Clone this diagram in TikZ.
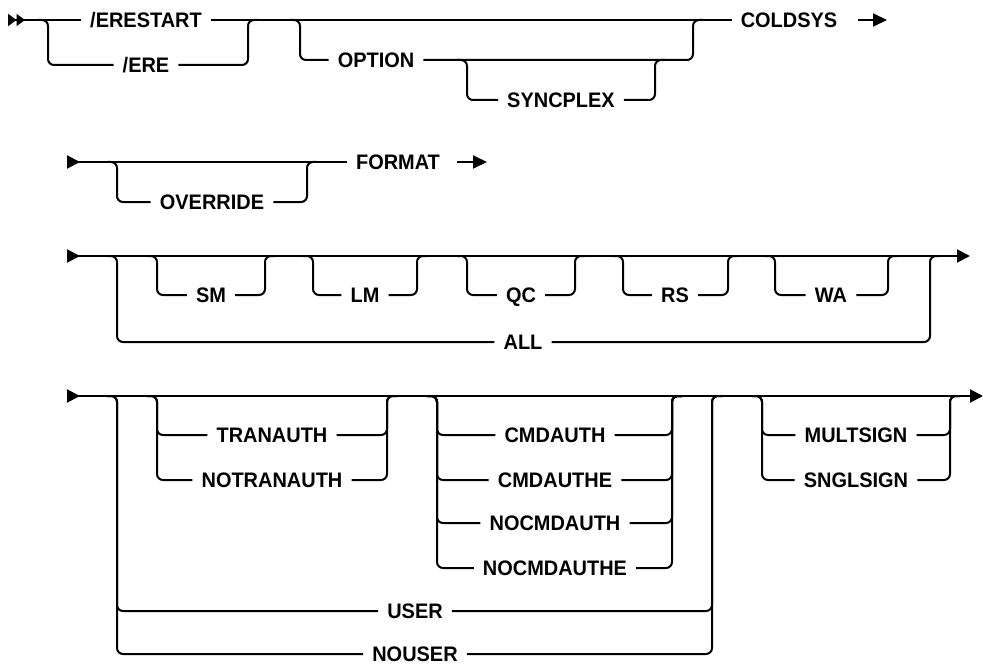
\documentclass[tikz,border=0pt]{standalone}
\usepackage{fontspec}
\setmainfont{Liberation Sans}
\newfontfamily\kwfont[FakeStretch=0.95]{Liberation Sans}
\usetikzlibrary{arrows.meta}

\begin{document}
\begin{tikzpicture}[
 x=1pt, y=-1pt,
 kw/.style={rectangle, draw=none, inner xsep=9pt, inner ysep=0pt, text height=15pt, text depth=0pt, font=\kwfont\fontsize{21}{21}\selectfont\bfseries},
 rail/.style={line width=2pt, rounded corners=6pt},
 dblarr/.style={{Triangle[reversed, length=8.5pt, width=12pt] Triangle[reversed, length=8.5pt, width=12pt]}-},
 startarr/.style={{Triangle[reversed, length=13pt, width=13pt]}-},
 endarr/.style={-{Triangle[length=14pt, width=13pt]}},
 thru/.style={{Triangle[reversed, length=13pt, width=13pt]}-{Triangle[length=13pt, width=13pt]}},
]
\useasboundingbox (0,0) rectangle (983,666);

% Row 1
\node[kw] (erestart) at (146,20) {/ERESTART};
\node[kw] (ere) at (146,65) {/ERE};
\node[kw] (option) at (376,60) {OPTION};
\node[kw] (syncplex) at (561,100) {SYNCPLEX};
\node[kw] (coldsys) at (789,20) {COLDSYS};
\coordinate (r1a) at (8,20);
\coordinate (r1b) at (887,20);

\draw[rail, dblarr] (r1a) -- (erestart.west);
\draw[rail] (erestart.east) -- (coldsys.west);
\draw[rail, endarr] ([xshift=12pt]coldsys.east) -- (r1b);
\draw[rail] (ere.west) -| (48,20) -- (38,20);
\draw[rail] (ere.east) -| (248,20) -- (258,20);
\draw[rail] (option.west) -| (300,20) -- (290,20);
\draw[rail] (option.east) -| (693,20) -- (703,20);
\draw[rail] (syncplex.west) -| (467,60) -- (457,60);
\draw[rail] (syncplex.east) -| (655,60) -- (665,60);

% Row 2
\node[kw] (override) at (212,202) {OVERRIDE};
\node[kw] (format) at (398,162) {FORMAT};
\coordinate (r2a) at (67,162);
\coordinate (r2b) at (487,162);

\draw[rail, startarr] (r2a) -- (format.west);
\draw[rail, endarr] ([xshift=8pt]format.east) -- (r2b);
\draw[rail] (override.west) -| (117,162) -- (107,162);
\draw[rail] (override.east) -| (307,162) -- (317,162);

% Row 3
\node[kw] (sm) at (211,295) {SM};
\node[kw] (lm) at (365,295) {LM};
\node[kw] (qc) at (521,295) {QC};
\node[kw] (rs) at (675,295) {RS};
\node[kw] (wa) at (831,295) {WA};
\node[kw] (all) at (523,342) {ALL};
\coordinate (r3a) at (67,256);
\coordinate (r3b) at (970,256);

\draw[rail, thru] (r3a) -- (r3b);
\draw[rail] (sm.west) -| (157,256) -- (147,256);
\draw[rail] (sm.east) -| (265,256) -- (275,256);
\draw[rail] (lm.west) -| (313,256) -- (303,256);
\draw[rail] (lm.east) -| (417,256) -- (427,256);
\draw[rail] (qc.west) -| (467,256) -- (457,256);
\draw[rail] (qc.east) -| (575,256) -- (585,256);
\draw[rail] (rs.west) -| (623,256) -- (613,256);
\draw[rail] (rs.east) -| (728,256) -- (738,256);
\draw[rail] (wa.west) -| (775,256) -- (765,256);
\draw[rail] (wa.east) -| (888,256) -- (898,256);
\draw[rail] (all.west) -| (117,256) -- (107,256);
\draw[rail] (all.east) -| (930,256) -- (940,256);

% Row 4
\node[kw] (tranauth) at (272,435) {TRANAUTH};
\node[kw] (notranauth) at (272,480) {NOTRANAUTH};
\node[kw] (cmdauth) at (555,435) {CMDAUTH};
\node[kw] (cmdauthe) at (555,480) {CMDAUTHE};
\node[kw] (nocmdauth) at (555,523) {NOCMDAUTH};
\node[kw] (nocmdauthe) at (555,568) {NOCMDAUTHE};
\node[kw] (user) at (415,611) {USER};
\node[kw] (nouser) at (415,654) {NOUSER};
\node[kw] (multsign) at (856,435) {MULTSIGN};
\node[kw] (snglsign) at (856,480) {SNGLSIGN};
\coordinate (r4a) at (67,396);
\coordinate (r4b) at (983,396);

\draw[rail, thru] (r4a) -- (r4b);
\draw[rail] (tranauth.west) -| (157,396) -- (147,396);
\draw[rail] (tranauth.east) -| (387,396) -- (397,396);
\draw[rail] (notranauth.west) -| (157,396) -- (147,396);
\draw[rail] (notranauth.east) -| (387,396) -- (397,396);
\draw[rail] (cmdauth.west) -| (437,396) -- (427,396);
\draw[rail] (cmdauth.east) -| (672,396) -- (682,396);
\draw[rail] (cmdauthe.west) -| (437,396) -- (427,396);
\draw[rail] (cmdauthe.east) -| (672,396) -- (682,396);
\draw[rail] (nocmdauth.west) -| (437,396) -- (427,396);
\draw[rail] (nocmdauth.east) -| (672,396) -- (682,396);
\draw[rail] (nocmdauthe.west) -| (437,396) -- (427,396);
\draw[rail] (nocmdauthe.east) -| (672,396) -- (682,396);
\draw[rail] (user.west) -| (117,396) -- (107,396);
\draw[rail] (user.east) -| (712,396) -- (722,396);
\draw[rail] (nouser.west) -| (117,396) -- (107,396);
\draw[rail] (nouser.east) -| (712,396) -- (722,396);
\draw[rail] (multsign.west) -| (762,396) -- (752,396);
\draw[rail] (multsign.east) -| (950,396) -- (960,396);
\draw[rail] (snglsign.west) -| (762,396) -- (752,396);
\draw[rail] (snglsign.east) -| (950,396) -- (960,396);

\end{tikzpicture}
\end{document}
